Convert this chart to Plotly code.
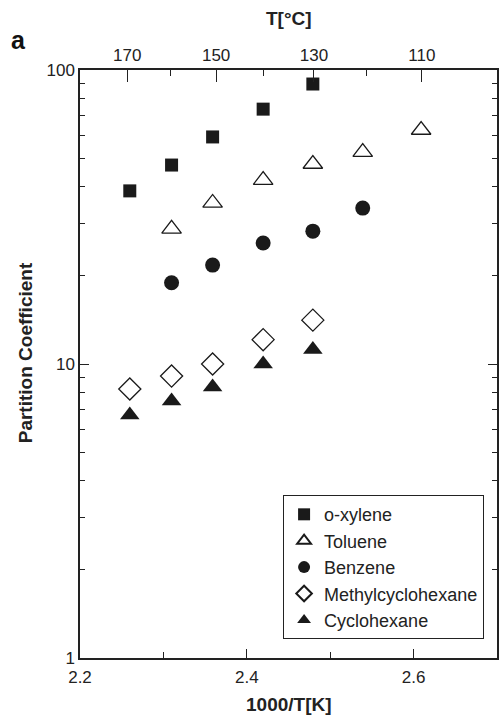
import plotly.graph_objects as go

# Data (x = 1000/T[K], y = partition coefficient)
x_oxylene = [2.2597, 2.3098, 2.3590, 2.4196, 2.4792]
y_oxylene = [38.8, 47.5, 59.2, 73.6, 89.6]

x_toluene = [2.3098, 2.3590, 2.4196, 2.4792, 2.5390, 2.6090]
y_toluene = [28.8, 35.3, 42.2, 47.9, 52.6, 62.5]

x_benzene = [2.3098, 2.3590, 2.4196, 2.4792, 2.5390]
y_benzene = [18.9, 21.7, 25.8, 28.3, 33.9]

x_mch = [2.2597, 2.3098, 2.3590, 2.4196, 2.4792]
y_mch = [8.22, 9.10, 10.0, 12.1, 14.1]

x_chx = [2.2597, 2.3098, 2.3590, 2.4196, 2.4792]
y_chx = [6.71, 7.48, 8.35, 10.0, 11.2]

top_major_C = [170, 150, 130, 110]
top_minor_C = [160, 140, 120]
bottom_ticks = [2.2, 2.4, 2.6]
bottom_minor = [2.3, 2.5]
y_ticks = [1, 10, 100]
y_minor = [2, 3, 4, 5, 6, 7, 8, 9, 20, 30, 40, 50, 60, 70, 80, 90]

def inv(tc):
    return 1000.0 / (tc + 273.15)

black = "#1a1a1a"
fig = go.Figure()
fig.add_trace(go.Scatter(x=x_oxylene, y=y_oxylene, mode="markers", name="o-xylene",
                         marker=dict(symbol="square", size=13, color=black)))
fig.add_trace(go.Scatter(x=x_toluene, y=y_toluene, mode="markers", name="Toluene",
                         marker=dict(symbol="triangle-up-open", size=17, color=black,
                                     line=dict(width=1.3, color=black))))
fig.add_trace(go.Scatter(x=x_benzene, y=y_benzene, mode="markers", name="Benzene",
                         marker=dict(symbol="circle", size=15, color=black)))
fig.add_trace(go.Scatter(x=x_mch, y=y_mch, mode="markers", name="Methylcyclohexane",
                         marker=dict(symbol="diamond-open", size=17, color=black,
                                     line=dict(width=1.3, color=black))))
fig.add_trace(go.Scatter(x=x_chx, y=y_chx, mode="markers", name="Cyclohexane",
                         marker=dict(symbol="triangle-up", size=17, color=black)))
# invisible trace for the top (°C) axis
fig.add_trace(go.Scatter(x=[2.2, 2.7], y=[1, 1], xaxis="x2", mode="markers",
                         marker=dict(opacity=0), showlegend=False, hoverinfo="skip"))

font = "Liberation Sans, Arial, sans-serif"
tickc = "#222"
H = 588.0  # plot-area height in px
fig.update_layout(
    width=501, height=715,
    margin=dict(l=80, r=2, t=70, b=57),
    paper_bgcolor="white", plot_bgcolor="white",
    font=dict(family=font, size=16, color=tickc),
    xaxis=dict(range=[2.2, 2.7], tickvals=bottom_ticks, ticktext=["2.2", "2.4", "2.6"],
               ticks="inside", ticklen=9, tickwidth=1, tickcolor=tickc,
               showline=True, linecolor=tickc, linewidth=1.5, showgrid=False, zeroline=False,
               minor=dict(tickmode="array", tickvals=bottom_minor, ticks="inside", ticklen=6,
                          tickcolor=tickc, showgrid=False),
               tickfont=dict(size=17), ticklabelstandoff=3),
    xaxis2=dict(range=[2.2, 2.7], overlaying="x", side="top", anchor="y",
                tickvals=[inv(t) for t in top_major_C], ticktext=[str(t) for t in top_major_C],
                ticks="inside", ticklen=12, tickwidth=1, tickcolor=tickc,
                showline=True, linecolor=tickc, linewidth=1.5, showgrid=False, zeroline=False,
                minor=dict(tickmode="array", tickvals=[inv(t) for t in top_minor_C],
                           ticks="inside", ticklen=6, tickcolor=tickc, showgrid=False),
                tickfont=dict(size=17)),
    yaxis=dict(type="log", range=[0, 2], tickvals=y_ticks, ticktext=["1", "10", "100"],
               ticks="inside", ticklen=9, tickwidth=1, tickcolor=tickc,
               showline=True, linecolor=tickc, linewidth=1.5, mirror="ticks",
               showgrid=False, zeroline=False,
               minor=dict(tickmode="array", tickvals=y_minor, ticks="inside", ticklen=5,
                          tickcolor=tickc, showgrid=False),
               tickfont=dict(size=17)),
    legend=dict(x=0.487, y=0.277, xanchor="left", yanchor="top",
                bordercolor=tickc, borderwidth=1, bgcolor="white",
                font=dict(size=18, color=tickc), itemsizing="constant", itemwidth=30),
    showlegend=True,
    annotations=[
        dict(text="<b>a</b>", x=(18 - 80) / 419, y=(658 - 40) / H, xref="paper", yref="paper",
             xanchor="center", yanchor="middle",
             showarrow=False, font=dict(size=25, color="#111")),
        dict(text="<b>T[°C]</b>", x=0.5, y=(658 - 19) / H, xref="paper", yref="paper",
             xanchor="center", yanchor="middle",
             showarrow=False, font=dict(size=19, color=tickc)),
        dict(text="<b>1000/T[K]</b>", x=0.5, y=(658 - 704) / H, xref="paper", yref="paper",
             xanchor="center", yanchor="middle",
             showarrow=False, font=dict(size=19, color=tickc)),
        dict(text="<b>Partition Coefficient</b>", x=(25 - 80) / 419, y=(658 - 353) / H,
             xref="paper", yref="paper", xanchor="center", yanchor="middle",
             showarrow=False, textangle=-90, font=dict(size=19, color=tickc)),
    ],
)

fig.write_html("out.html")
